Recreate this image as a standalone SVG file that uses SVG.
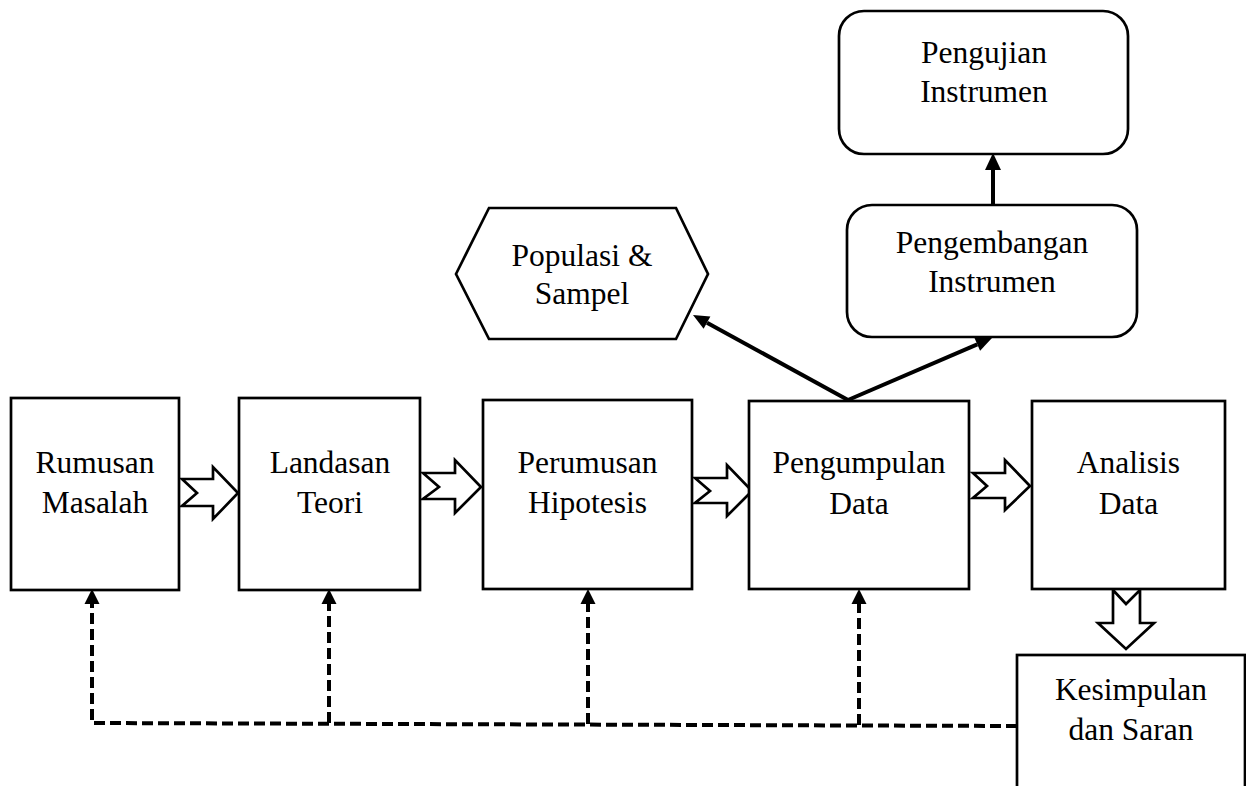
<svg xmlns="http://www.w3.org/2000/svg" width="1246" height="786" viewBox="0 0 1246 786">
<style>
.box{fill:#fff;stroke:#000;stroke-width:2.7}
.blk{fill:#fff;stroke:#000;stroke-width:2.7;stroke-linejoin:miter}
.t{font-family:"Liberation Serif","Times New Roman",serif;font-size:31.5px;fill:#000;text-anchor:middle}
.ln{fill:none;stroke:#000;stroke-width:4}
.dash{fill:none;stroke:#000;stroke-width:4;stroke-dasharray:11 5}
.head{fill:#000;stroke:none}
</style>
<rect width="1246" height="786" fill="#fff"/>
<g id="connectors">
  <!-- block arrows -->
  <polygon class="blk" points="182,479 197,493 182,506 213,506 213,519 238,493 213,467 213,479"/>
  <polygon class="blk" points="423,473 439,487 423,499 455,499 455,513 481,487 455,460 455,473"/>
  <polygon class="blk" points="695,478 710,491 695,503 727,503 727,516 752,491 727,465 727,478"/>
  <polygon class="blk" points="973,473 987,486 973,498 1005,498 1005,510 1030,486 1005,460 1005,473"/>
  <polygon class="blk" points="1113,590 1126,604 1140,590 1140,623 1154,623 1126,649 1098,623 1113,623"/>
  <!-- fan arrows -->
  <line class="ln" x1="848" y1="400" x2="707" y2="322.7"/>
  <polygon class="head" points="693,315 710.4,316.6 703.6,328.8"/>
  <line class="ln" x1="848" y1="400" x2="977.3" y2="344.3"/>
  <polygon class="head" points="992,338 980.1,350.7 974.5,337.9"/>
  <!-- vertical arrow -->
  <line class="ln" x1="993" y1="205" x2="993" y2="169"/>
  <polygon class="head" points="993,153 985,170 1001,170"/>
  <!-- dashed feedback -->
  <path class="dash" d="M1017,726 L92,723 L92,604"/>
  <line class="dash" x1="329" y1="723" x2="329" y2="604"/>
  <line class="dash" x1="588" y1="724" x2="588" y2="604"/>
  <line class="dash" x1="859" y1="725" x2="859" y2="604"/>
  <polygon class="head" points="92,589 84.5,604 99.5,604"/>
  <polygon class="head" points="329,589 321.5,604 336.5,604"/>
  <polygon class="head" points="588,589 580.5,604 595.5,604"/>
  <polygon class="head" points="859,589 851.5,604 866.5,604"/>
</g>
<g id="rumusan">
  <rect class="box" x="11" y="398" width="168" height="192"/>
  <text class="t" x="95" y="473">Rumusan</text>
  <text class="t" x="95" y="513">Masalah</text>
</g>
<g id="landasan">
  <rect class="box" x="239" y="398" width="181" height="192"/>
  <text class="t" x="330" y="473">Landasan</text>
  <text class="t" x="330" y="513">Teori</text>
</g>
<g id="perumusan">
  <rect class="box" x="483" y="400" width="209" height="189"/>
  <text class="t" x="587.5" y="473">Perumusan</text>
  <text class="t" x="587.5" y="513">Hipotesis</text>
</g>
<g id="pengumpulan">
  <rect class="box" x="749" y="401" width="220" height="188"/>
  <text class="t" x="859" y="473">Pengumpulan</text>
  <text class="t" x="859" y="514">Data</text>
</g>
<g id="analisis">
  <rect class="box" x="1032" y="401" width="193" height="188"/>
  <text class="t" x="1128.5" y="473">Analisis</text>
  <text class="t" x="1128.5" y="514">Data</text>
</g>
<g id="kesimpulan">
  <rect class="box" x="1017" y="655" width="228" height="160"/>
  <text class="t" x="1131" y="700">Kesimpulan</text>
  <text class="t" x="1131" y="740">dan Saran</text>
</g>
<g id="populasi">
  <polygon class="box" points="456,274 489,208 676,208 708,274 676,339 489,339"/>
  <text class="t" x="582" y="266">Populasi &amp;</text>
  <text class="t" x="582" y="304">Sampel</text>
</g>
<g id="pengembangan">
  <rect class="box" x="847" y="205" width="290" height="132" rx="25" ry="25"/>
  <text class="t" x="992" y="253">Pengembangan</text>
  <text class="t" x="992" y="292">Instrumen</text>
</g>
<g id="pengujian">
  <rect class="box" x="839" y="11" width="289" height="143" rx="25" ry="25"/>
  <text class="t" x="984" y="63">Pengujian</text>
  <text class="t" x="984" y="102">Instrumen</text>
</g>
</svg>
